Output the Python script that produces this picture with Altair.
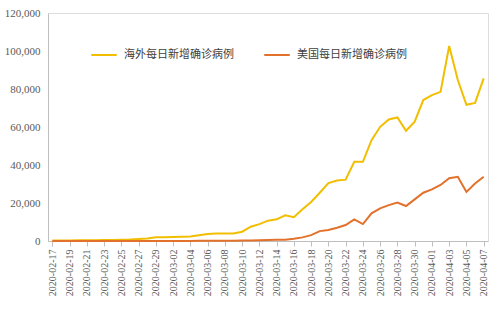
import altair as alt
import pandas as pd

dates = pd.date_range("2020-02-17", "2020-04-07").strftime("%Y-%m-%d").tolist()

overseas = [200, 250, 300, 350, 400, 450, 500, 550, 650, 800, 1100, 1300, 2000, 2000, 2100,
            2200, 2400, 3000, 3700, 4000, 4000, 3900, 4900, 7500, 8900, 10700, 11400, 13500,
            12500, 16700, 20500, 25400, 30500, 31800, 32300, 41700, 41700, 53100, 60100,
            64000, 65000, 58000, 62800, 74200, 76800, 78500, 102600, 84700, 71700, 72700, 85600]

usa = [5, 5, 5, 5, 5, 5, 10, 10, 10, 10, 10, 10, 20, 20, 30,
       30, 50, 80, 100, 100, 100, 150, 250, 300, 400, 500, 600, 700,
       1200, 1900, 3100, 5200, 5800, 7000, 8400, 11400, 8900, 14600, 17200,
       18900, 20200, 18400, 21900, 25400, 27200, 29500, 33000, 33800, 25800, 30300, 33800]

series_names = ["海外每日新增确诊病例", "美国每日新增确诊病例"]
colors = ["#F2BE00", "#E2712B"]
y_ticks = [0, 20000, 40000, 60000, 80000, 100000, 120000]

df = pd.concat([
    pd.DataFrame({"date": dates, "value": overseas, "series": series_names[0]}),
    pd.DataFrame({"date": dates, "value": usa, "series": series_names[1]}),
])

serif = "Liberation Serif"

chart = alt.Chart(df).mark_line(strokeWidth=2).encode(
    x=alt.X("date:O", sort=dates,
            scale=alt.Scale(type="point", padding=0.5),
            axis=alt.Axis(title=None, values=dates[::2], labelAngle=-90,
                          labelFont=serif, labelFontSize=10, labelColor="#595959",
                          domainColor="#BFBFBF", tickColor="#BFBFBF", tickSize=5,
                          labelPadding=3, grid=False)),
    y=alt.Y("value:Q", scale=alt.Scale(domain=[0, 120000], nice=False),
            axis=alt.Axis(title=None, values=y_ticks, format=",.0f", labelFont=serif,
                          labelFontSize=11, labelColor="#595959", ticks=False,
                          domainColor="#BFBFBF", labelPadding=8, grid=False)),
    color=alt.Color("series:N", scale=alt.Scale(domain=series_names, range=colors),
                    legend=alt.Legend(title=None, orient="none", legendX=42, legendY=28,
                                      direction="horizontal", symbolType="stroke",
                                      symbolStrokeWidth=2, symbolSize=650,
                                      labelFont="Noto Sans CJK SC", labelFontSize=11,
                                      labelColor="#404040", columnPadding=26,
                                      labelOffset=6)),
).properties(
    width=440, height=228,
    autosize=alt.AutoSizeParams(type="none"),
    padding={"left": 48, "top": 13, "right": 11, "bottom": 73},
).configure_view(stroke="#D9D9D9", strokeWidth=1.5).configure(background="white")

chart.save("out.html", embed_options={"renderer": "svg", "actions": False})
